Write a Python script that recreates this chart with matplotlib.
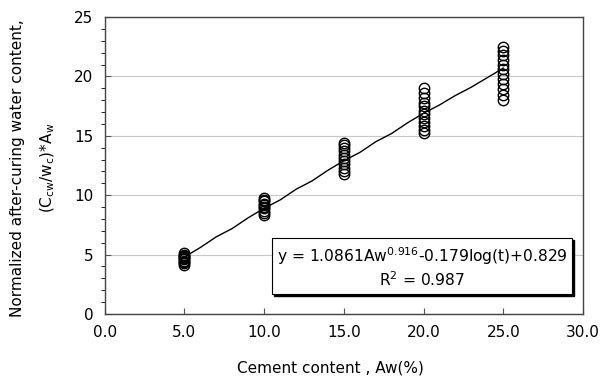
import matplotlib.pyplot as plt
from matplotlib import transforms
from matplotlib.ticker import MultipleLocator

# measured points (cement content, normalized water content)
x5 = [4.1, 4.3, 4.4, 4.5, 4.6, 4.7, 4.8, 4.9, 5.0, 5.1]
x10 = [8.3, 8.5, 8.7, 8.9, 9.0, 9.2, 9.3, 9.5, 9.6, 9.8]
x15 = [11.8, 12.0, 12.3, 12.6, 12.9, 13.1, 13.4, 13.7, 14.0, 14.2, 14.4]
x20 = [15.2, 15.5, 15.8, 16.2, 16.5, 16.8, 17.1, 17.5, 17.8, 18.2, 18.6, 19.0]
x25 = [18.0, 18.4, 18.9, 19.4, 19.8, 20.2, 20.6, 21.0, 21.4, 21.8, 22.1, 22.5]
groups = {5: x5, 10: x10, 15: x15, 20: x20, 25: x25}

# fitted line
line_x = [5, 6, 7, 8, 9, 10, 11, 12, 13, 14, 15, 16, 17, 18, 19, 20, 21, 22, 23, 24, 25]
line_y = [4.8, 5.6, 6.5, 7.2, 8.1, 8.9, 9.6, 10.5, 11.2, 12.1, 12.9, 13.6, 14.5, 15.2, 16.1, 16.9, 17.6, 18.4, 19.1, 19.9, 20.7]

fig = plt.figure(figsize=(6.07, 3.87), dpi=100)
ax = fig.add_axes([0.1725, 0.1886, 0.788, 0.7674])

ax.plot(line_x, line_y, color='black', lw=1.0, zorder=3)
for xv, ys in groups.items():
    ax.plot([xv] * len(ys), ys, 'o', mfc='none', mec='black', ms=7.5, mew=1.0, zorder=4)

ax.set_xlim(0, 30)
ax.set_ylim(0, 25)
ax.xaxis.set_major_locator(MultipleLocator(5))
ax.yaxis.set_major_locator(MultipleLocator(5))
ax.yaxis.set_minor_locator(MultipleLocator(1))
ax.set_xticklabels([f"{v:.1f}" for v in ax.get_xticks()])
ax.tick_params(axis='both', direction='in', labelsize=11, color='#555555')
ax.tick_params(axis='x', length=4, pad=8)
ax.tick_params(axis='y', which='major', length=4, pad=8)
ax.tick_params(axis='y', which='minor', length=3)
ax.grid(axis='y', color='#c8c8c8', lw=0.8)
ax.set_axisbelow(True)
for s in ax.spines.values():
    s.set_color('#444444')
    s.set_linewidth(1.0)

fig.text(0.545, 0.048, "Cement content , Aw(%)", ha='center', va='center', fontsize=11)
fig.text(0.029, 0.565, "Normalized after-curing water content,", rotation=90,
         ha='center', va='center', fontsize=11)
fig.text(0.079, 0.565, r"(C$_{\mathregular{cw}}$/w$_{\mathregular{c}}$)*A$_{\mathregular{w}}$",
         rotation=90, ha='center', va='center', fontsize=11)

label = "y = 1.0861Aw$^{0.916}$-0.179log(t)+0.829\nR$^{2}$ = 0.987"
shadow = transforms.offset_copy(ax.transData, fig=fig, x=1.6, y=-1.6, units='points')
ax.text(19.9, 3.95, label, transform=shadow, ha='center', va='center', fontsize=11.2,
        color='black', linespacing=1.25,
        bbox=dict(boxstyle='square,pad=0.3', fc='black', ec='black'), zorder=5)
ax.text(19.9, 3.95, label, ha='center', va='center', fontsize=11.2, linespacing=1.25,
        bbox=dict(boxstyle='square,pad=0.3', fc='white', ec='black', lw=0.8), zorder=6)

fig.savefig('out.png', dpi=100)
